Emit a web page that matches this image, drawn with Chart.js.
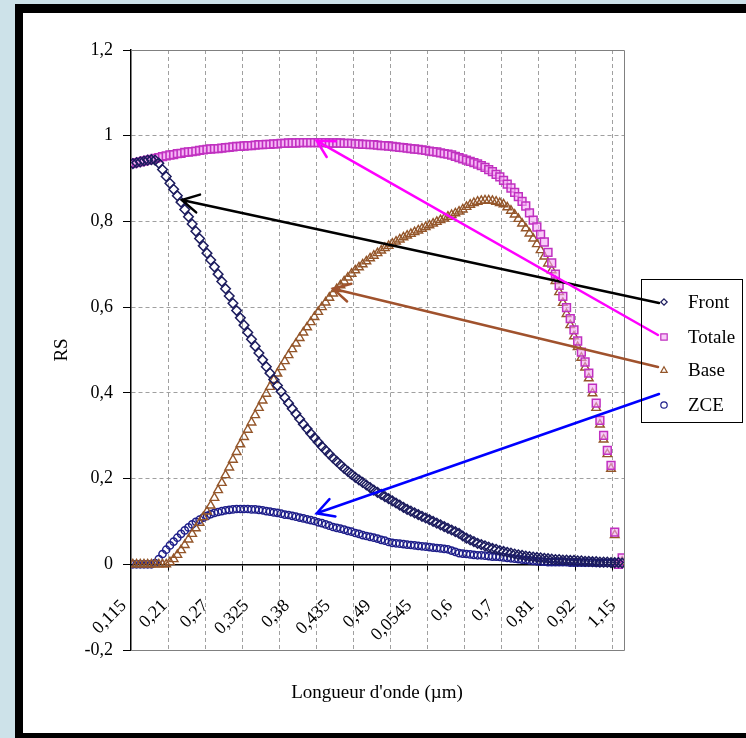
<!DOCTYPE html>
<html>
<head>
<meta charset="utf-8">
<script src="https://cdn.jsdelivr.net/npm/chart.js@4.4.1/dist/chart.umd.min.js"></script>
<style>
  html, body { margin: 0; padding: 0; background: #cde2e9; }
  #chart { display: block; }
</style>
</head>
<body>
<canvas id="chart" width="746" height="738"></canvas>
<script>
// --- DONNÉES ---
const xTickLabels = ['0,115', '0,21', '0,27', '0,325', '0,38', '0,435', '0,49', '0,0545', '0,6', '0,7', '0,81', '0,92', '1,15'];
const labelEvery = 11;   // une étiquette toutes les 11 catégories
const gridEvery = 10;    // une graduation toutes les 10 catégories

const front = [
    0.935, 0.937, 0.939, 0.941, 0.943, 0.944, 0.943, 0.936, 0.921, 0.905,
    0.889, 0.875, 0.860, 0.845, 0.828, 0.811, 0.794, 0.777, 0.760, 0.743,
    0.726, 0.710, 0.694, 0.677, 0.660, 0.643, 0.626, 0.609, 0.592, 0.575,
    0.558, 0.541, 0.525, 0.509, 0.493, 0.477, 0.461, 0.446, 0.431, 0.417,
    0.403, 0.389, 0.376, 0.363, 0.351, 0.339, 0.327, 0.316, 0.305, 0.295,
    0.285, 0.275, 0.266, 0.257, 0.248, 0.240, 0.232, 0.224, 0.217, 0.210,
    0.203, 0.197, 0.191, 0.185, 0.179, 0.173, 0.168, 0.163, 0.158, 0.153,
    0.148, 0.143, 0.138, 0.133, 0.128, 0.124, 0.120, 0.116, 0.112, 0.108,
    0.104, 0.100, 0.096, 0.092, 0.088, 0.084, 0.080, 0.076, 0.072, 0.066,
    0.061, 0.057, 0.053, 0.049, 0.046, 0.043, 0.040, 0.037, 0.035, 0.032,
    0.030, 0.028, 0.026, 0.024, 0.022, 0.021, 0.019, 0.018, 0.017, 0.016,
    0.015, 0.014, 0.013, 0.012, 0.011, 0.011, 0.010, 0.010, 0.009, 0.009,
    0.008, 0.008, 0.007, 0.007, 0.006, 0.006, 0.005, 0.005, 0.005, 0.004,
    0.004, 0.004, 0.003
];
const totale = [
    0.935, 0.937, 0.939, 0.941, 0.943, 0.945, 0.947, 0.949, 0.951, 0.953,
    0.955, 0.956, 0.958, 0.959, 0.961, 0.962, 0.963, 0.964, 0.966, 0.967,
    0.968, 0.969, 0.970, 0.970, 0.971, 0.972, 0.973, 0.974, 0.975, 0.975,
    0.976, 0.977, 0.977, 0.978, 0.979, 0.979, 0.980, 0.980, 0.981, 0.981,
    0.982, 0.982, 0.983, 0.983, 0.983, 0.984, 0.984, 0.984, 0.984, 0.984,
    0.984, 0.984, 0.984, 0.983, 0.983, 0.983, 0.983, 0.982, 0.982, 0.982,
    0.981, 0.981, 0.980, 0.980, 0.979, 0.979, 0.978, 0.977, 0.977, 0.976,
    0.975, 0.974, 0.973, 0.972, 0.971, 0.970, 0.969, 0.968, 0.967, 0.966,
    0.964, 0.963, 0.962, 0.960, 0.958, 0.957, 0.955, 0.952, 0.949, 0.946,
    0.943, 0.940, 0.937, 0.934, 0.930, 0.926, 0.921, 0.916, 0.910, 0.904,
    0.896, 0.887, 0.878, 0.868, 0.858, 0.847, 0.836, 0.820, 0.803, 0.787,
    0.770, 0.752, 0.728, 0.703, 0.677, 0.651, 0.625, 0.599, 0.573, 0.547,
    0.521, 0.495, 0.472, 0.446, 0.411, 0.376, 0.336, 0.301, 0.266, 0.231,
    0.075, 0.000, 0.015
];
const base = [
    0, 0, 0, 0, 0, 0, 0, 0, 0, 0,
    0.005, 0.012, 0.022, 0.033, 0.045, 0.058, 0.071, 0.084, 0.097, 0.110,
    0.123, 0.137, 0.155, 0.173, 0.190, 0.208, 0.226, 0.244, 0.262, 0.280,
    0.297, 0.314, 0.331, 0.348, 0.365, 0.382, 0.398, 0.414, 0.430, 0.445,
    0.460, 0.474, 0.488, 0.502, 0.515, 0.528, 0.541, 0.553, 0.565, 0.577,
    0.589, 0.600, 0.611, 0.622, 0.632, 0.642, 0.651, 0.660, 0.669, 0.678,
    0.686, 0.693, 0.700, 0.707, 0.714, 0.720, 0.726, 0.732, 0.738, 0.743,
    0.748, 0.753, 0.758, 0.763, 0.767, 0.771, 0.775, 0.779, 0.783, 0.787,
    0.791, 0.795, 0.799, 0.803, 0.807, 0.811, 0.815, 0.819, 0.823, 0.828,
    0.834, 0.839, 0.843, 0.846, 0.848, 0.849, 0.849, 0.848, 0.846, 0.843,
    0.840, 0.833, 0.825, 0.816, 0.806, 0.795, 0.784, 0.772, 0.760, 0.747,
    0.733, 0.718, 0.702, 0.686, 0.661, 0.635, 0.610, 0.584, 0.558, 0.532,
    0.507, 0.482, 0.459, 0.434, 0.399, 0.365, 0.326, 0.291, 0.257, 0.223,
    0.068, 0.000, 0.006
];
const zce = [
    0, 0, 0, 0, 0, 0, 0.003, 0.012, 0.024, 0.034,
    0.044, 0.053, 0.062, 0.071, 0.079, 0.086, 0.093, 0.099, 0.104, 0.109,
    0.113, 0.117, 0.120, 0.122, 0.124, 0.126, 0.127, 0.128, 0.129, 0.129,
    0.129, 0.129, 0.128, 0.128, 0.127, 0.126, 0.124, 0.123, 0.121, 0.120,
    0.118, 0.116, 0.115, 0.113, 0.111, 0.109, 0.107, 0.105, 0.103, 0.101,
    0.098, 0.096, 0.093, 0.090, 0.087, 0.085, 0.083, 0.081, 0.078, 0.076,
    0.073, 0.071, 0.068, 0.066, 0.064, 0.062, 0.060, 0.057, 0.055, 0.052,
    0.050, 0.049, 0.048, 0.047, 0.046, 0.045, 0.044, 0.043, 0.042, 0.041,
    0.040, 0.039, 0.038, 0.037, 0.036, 0.035, 0.032, 0.029, 0.026, 0.025,
    0.024, 0.023, 0.022, 0.021, 0.021, 0.020, 0.019, 0.018, 0.018, 0.017,
    0.016, 0.015, 0.014, 0.013, 0.012, 0.011, 0.010, 0.009, 0.008, 0.007,
    0.006, 0.006, 0.005, 0.005, 0.005, 0.005, 0.005, 0.005, 0.004, 0.004,
    0.004, 0.004, 0.004, 0.004, 0.004, 0.003, 0.003, 0.003, 0.003, 0.003,
    0.003, 0.003, 0.003
];

// flèches d'annotation : queue près de la légende (px), pointe sur la courbe (catégorie, valeur)
const arrows = [
    { color: '#000000', from: [659, 303], to: [13.2, 0.850] },
    { color: '#ff00ff', from: [658, 335], to: [49.6, 0.988] },
    { color: '#a0522d', from: [658, 367], to: [54.0, 0.643] },
    { color: '#0000ff', from: [659, 394], to: [49.6, 0.119] }
];

const SERIF = "'Liberation Serif', 'Times New Roman', serif";
const indices = front.map((_, i) => i);

// --- PLUGINS ---
const framePlugin = {
    id: 'frame',
    beforeDraw(chart) {
        const ctx = chart.ctx;
        ctx.save();
        ctx.fillStyle = '#cde2e9';
        ctx.fillRect(0, 0, 746, 738);
        ctx.fillStyle = '#000';
        ctx.fillRect(15, 4, 731, 734);
        ctx.fillStyle = '#fff';
        ctx.fillRect(23, 13, 723, 720);
        ctx.restore();
    },
    beforeDatasetsDraw(chart) {
        const { ctx, chartArea: a } = chart;
        ctx.save();
        ctx.strokeStyle = '#808080';
        ctx.lineWidth = 1;
        ctx.beginPath();
        ctx.moveTo(a.left, Math.round(a.top) + 0.5);
        ctx.lineTo(Math.round(a.right) + 0.5, Math.round(a.top) + 0.5);
        ctx.lineTo(Math.round(a.right) + 0.5, Math.round(a.bottom) + 0.5);
        ctx.lineTo(a.left, Math.round(a.bottom) + 0.5);
        ctx.stroke();
        ctx.restore();
    }
};

function drawMarker(ctx, style, x, y, r) {
    ctx.beginPath();
    if (style === 'rect') {
        ctx.rect(x - r, y - r, 2 * r, 2 * r);
    } else if (style === 'rectRot') {
        ctx.moveTo(x, y - r); ctx.lineTo(x + r, y); ctx.lineTo(x, y + r); ctx.lineTo(x - r, y); ctx.closePath();
    } else if (style === 'triangle') {
        ctx.moveTo(x, y - r); ctx.lineTo(x + r, y + r * 0.75); ctx.lineTo(x - r, y + r * 0.75); ctx.closePath();
    } else {
        ctx.arc(x, y, r, 0, Math.PI * 2);
    }
    ctx.fill();
    ctx.stroke();
}

const annotationPlugin = {
    id: 'annotations',
    afterDraw(chart) {
        const { ctx, scales } = chart;
        ctx.save();

        // flèches
        arrows.forEach(a => {
            const tx = scales.x.getPixelForValue(a.to[0]);
            const ty = scales.y.getPixelForValue(a.to[1]);
            const [fx, fy] = a.from;
            const ang = Math.atan2(fy - ty, fx - tx);
            ctx.strokeStyle = a.color;
            ctx.lineWidth = 2.5;
            ctx.lineCap = 'round';
            ctx.beginPath();
            ctx.moveTo(fx, fy);
            ctx.lineTo(tx, ty);
            ctx.moveTo(tx + 19 * Math.cos(ang + 0.5), ty + 19 * Math.sin(ang + 0.5));
            ctx.lineTo(tx, ty);
            ctx.lineTo(tx + 19 * Math.cos(ang - 0.5), ty + 19 * Math.sin(ang - 0.5));
            ctx.stroke();
        });

        // légende
        ctx.strokeStyle = '#000';
        ctx.lineWidth = 1;
        ctx.strokeRect(641.5, 279.5, 101, 143);
        const rowsY = [302, 337, 370, 405];
        ctx.font = '19px ' + SERIF;
        ctx.textBaseline = 'middle';
        ctx.textAlign = 'left';
        chart.data.datasets.forEach((ds, k) => {
            ctx.strokeStyle = ds.borderColor;
            ctx.fillStyle = ds.backgroundColor;
            ctx.lineWidth = 1.2;
            drawMarker(ctx, ds.pointStyle, 664, rowsY[k], 3.2);
            ctx.fillStyle = '#000';
            ctx.fillText(ds.label, 688, rowsY[k] + 1);
        });

        // titres des axes
        ctx.fillStyle = '#000';
        ctx.font = '19px ' + SERIF;
        ctx.textAlign = 'center';
        ctx.fillText("Longueur d'onde (µm)", 377, 693);
        ctx.translate(62, 350);
        ctx.rotate(-Math.PI / 2);
        ctx.fillText('RS', 0, 0);
        ctx.restore();
    }
};

// --- GRAPHIQUE ---
const ctx = document.getElementById('chart').getContext('2d');
const chart = new Chart(ctx, {
    type: 'line',
    data: {
        labels: indices,
        datasets: [
            { label: 'Front', data: front, pointStyle: 'rectRot', pointRadius: 4.8, borderColor: '#1c1c5e', backgroundColor: 'rgba(255,255,255,0)', pointBorderWidth: 1.5 },
            { label: 'Totale', data: totale, pointStyle: 'rect', pointRadius: 5.5, borderColor: '#c030c0', backgroundColor: 'rgba(245,170,245,0.6)', pointBorderWidth: 1.5 },
            { label: 'Base', data: base, pointStyle: 'triangle', pointRadius: 5, borderColor: '#94562a', backgroundColor: 'rgba(255,255,255,0)', pointBorderWidth: 1.4 },
            { label: 'ZCE', data: zce, pointStyle: 'circle', pointRadius: 3.6, borderColor: '#1e1e8a', backgroundColor: 'rgba(255,255,255,0)', pointBorderWidth: 1.5 }
        ].map(ds => Object.assign(ds, { showLine: false, pointBackgroundColor: ds.backgroundColor, pointBorderColor: ds.borderColor, pointHoverRadius: ds.pointRadius }))
    },
    options: {
        responsive: false,
        devicePixelRatio: 1,
        animation: false,
        events: [],
        layout: { padding: { left: 0, top: 50, right: 122, bottom: 88 } },
        plugins: { legend: { display: false }, tooltip: { enabled: false } },
        scales: {
            x: {
                type: 'linear',
                min: -0.5,
                max: front.length - 0.5,
                position: { y: 0 },
                afterBuildTicks: (s) => {
                    const t = [];
                    for (let v = gridEvery - 0.5; v < front.length - 0.5; v += gridEvery) t.push({ value: v });
                    s.ticks = t;
                },
                ticks: { display: false },
                grid: { color: '#a0a0a0', lineWidth: 1, tickLength: 5, tickColor: '#000', tickBorderDash: [] },
                border: { display: true, color: '#000', width: 1.5, dash: [4, 3] }
            },
            xLabels: {
                type: 'linear',
                axis: 'x',
                min: -0.5,
                max: front.length - 0.5,
                position: { y: 0 },
                afterBuildTicks: (s) => {
                    s.ticks = xTickLabels.map((_, k) => ({ value: k * labelEvery }));
                },
                ticks: {
                    autoSkip: false,
                    minRotation: 45,
                    maxRotation: 45,
                    padding: 31,
                    labelOffset: -9,
                    color: '#000',
                    font: { family: SERIF, size: 18 },
                    callback: (v, idx) => xTickLabels[idx]
                },
                grid: { display: false, drawTicks: false },
                border: { display: false }
            },
            y: {
                min: -0.2,
                max: 1.2,
                afterFit: (s) => { s.width = 131; },
                ticks: {
                    stepSize: 0.2,
                    padding: 10,
                    color: '#000',
                    font: { family: SERIF, size: 18 },
                    callback: (v) => String(Math.round(v * 10) / 10).replace('.', ',')
                },
                grid: { color: '#a0a0a0', lineWidth: 1, tickLength: 8, tickColor: '#000', tickBorderDash: [] },
                border: { display: true, color: '#000', width: 1.5, dash: [4, 3] }
            }
        }
    },
    plugins: [framePlugin, annotationPlugin]
});
</script>
</body>
</html>
